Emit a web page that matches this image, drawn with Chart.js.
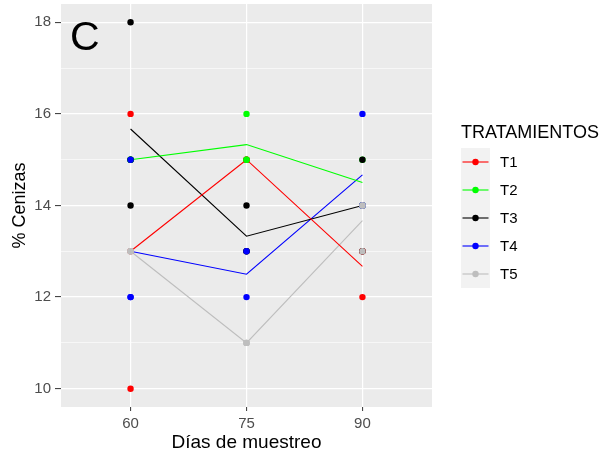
<!DOCTYPE html>
<html><head><meta charset="utf-8">
<script src="https://cdn.jsdelivr.net/npm/chart.js@4"></script>
<style>html,body{margin:0;padding:0;background:#fff}#wrap{width:606px;height:454px;position:relative}</style>
</head><body><div id="wrap"><canvas id="c" width="606" height="454"></canvas></div>
<script>
// ---- data ----
const days = [60, 75, 90];
const dayLabels = ['60', '75', '90'];
const yTicksMajor = [10, 12, 14, 16, 18];
const yTicksMinor = [11, 13, 15, 17];
const seriesNames = ['T1', 'T2', 'T3', 'T4', 'T5'];
const seriesColors = ['#FF0000', '#00FF00', '#000000', '#0000FF', '#BEBEBE'];
// individual observations per day (60, 75, 90)
const t1Obs = [[16, 13, 10], [15, 15, 15], [12, 13, 13]];
const t2Obs = [[15, 15, 15], [16, 15, 15], [15, 14]];
const t3Obs = [[18, 14, 15], [14, 13, 13], [15, 14, 13]];
const t4Obs = [[15, 12, 12], [13, 12], [16, 14, 14]];
const t5Obs = [[13, 13, 13], [11, 11, 11], [14, 14, 13]];
// mean line per day (60, 75, 90)
const t1Mean = [13, 15, 12.67];
const t2Mean = [15, 15.33, 14.5];
const t3Mean = [15.67, 13.33, 14];
const t4Mean = [13, 12.5, 14.67];
const t5Mean = [13, 11, 13.67];
const panelLabel = 'C';
const xTitle = 'Días de muestreo';
const yTitle = '% Cenizas';
const legendTitle = 'TRATAMIENTOS';

const allObs = [t1Obs, t2Obs, t3Obs, t4Obs, t5Obs];
const allMean = [t1Mean, t2Mean, t3Mean, t4Mean, t5Mean];
const FONT = "'Liberation Sans', Arial, sans-serif";

const datasets = [];
allMean.forEach((m, i) => {
  datasets.push({
    type: 'line', label: seriesNames[i] + ' media',
    data: m.map((v, j) => ({x: days[j], y: v})),
    borderColor: seriesColors[i], borderWidth: 1.1, pointRadius: 0,
    fill: false, tension: 0, order: 100 + i
  });
});
allObs.forEach((obs, i) => {
  const pts = [];
  obs.forEach((arr, j) => arr.forEach(v => pts.push({x: days[j], y: v})));
  datasets.push({
    type: 'scatter', label: seriesNames[i], data: pts,
    backgroundColor: seriesColors[i], borderColor: seriesColors[i],
    pointRadius: 3.2, pointBorderWidth: 0, showLine: false, order: 10 - i
  });
});

const panelBg = {
  id: 'panelBg',
  beforeDraw(chart) {
    const a = chart.chartArea, ctx = chart.ctx;
    ctx.save(); ctx.fillStyle = '#EBEBEB';
    ctx.fillRect(a.left, a.top, a.right - a.left, a.bottom - a.top);
    ctx.restore();
  }
};
const extras = {
  id: 'extras',
  afterDraw(chart) {
    const a = chart.chartArea, ctx = chart.ctx;
    ctx.save();
    ctx.fillStyle = '#000';
    ctx.font = '41px ' + FONT;
    ctx.textBaseline = 'alphabetic'; ctx.textAlign = 'left';
    ctx.fillText(panelLabel, a.left + 9, a.top + 46);
    // legend
    const lx = a.right + 29, ty = 133;
    ctx.font = '18px ' + FONT; ctx.textBaseline = 'middle';
    ctx.fillText(legendTitle, lx, ty);
    const boxTop = 148, step = 28, kw = 29;
    ctx.fillStyle = '#F2F2F2';
    ctx.fillRect(lx, boxTop, kw, step * seriesNames.length);
    seriesNames.forEach((n, i) => {
      const cy = boxTop + step / 2 + i * step;
      ctx.strokeStyle = seriesColors[i]; ctx.lineWidth = 1.1;
      ctx.beginPath(); ctx.moveTo(lx + 1.5, cy); ctx.lineTo(lx + kw - 1.5, cy); ctx.stroke();
      ctx.fillStyle = seriesColors[i];
      ctx.beginPath(); ctx.arc(lx + kw / 2, cy, 3.2, 0, Math.PI * 2); ctx.fill();
      ctx.fillStyle = '#000'; ctx.font = '15px ' + FONT;
      ctx.fillText(n, lx + 39, cy + 1);
    });
    ctx.restore();
  }
};

new Chart(document.getElementById('c'), {
  type: 'scatter',
  data: {datasets},
  options: {
    responsive: false, animation: false, devicePixelRatio: 1,
    layout: {padding: {left: 0, top: 4, right: 174, bottom: 0}},
    plugins: {legend: {display: false}, tooltip: {enabled: false}},
    scales: {
      x: {
        type: 'linear', min: 51, max: 99,
        afterBuildTicks: s => { s.ticks = days.map(v => ({value: v})); },
        afterFit: s => { s.height = 47; s.paddingLeft = 0; s.paddingRight = 0; },
        ticks: {
          callback: v => dayLabels[days.indexOf(v)],
          color: '#4D4D4D', font: {family: FONT, size: 15}, padding: 4, maxRotation: 0
        },
        grid: {color: '#FFFFFF', lineWidth: 1.2, tickLength: 4, tickColor: '#333333', tickWidth: 1},
        border: {display: false},
        title: {display: true, text: xTitle, color: '#000', font: {family: FONT, size: 19}, padding: 0}
      },
      y: {
        type: 'linear', min: 9.6, max: 18.4,
        afterBuildTicks: s => {
          s.ticks = yTicksMajor.concat(yTicksMinor).sort((p, q) => p - q).map(v => ({value: v}));
        },
        afterFit: s => { s.width = 61; s.paddingTop = 0; s.paddingBottom = 0; },
        ticks: {
          callback: v => yTicksMajor.includes(v) ? String(v) : '',
          color: '#4D4D4D', font: {family: FONT, size: 15}, padding: 4
        },
        grid: {
          color: '#FFFFFF',
          lineWidth: c => yTicksMajor.includes(c.tick && c.tick.value) ? 1.2 : 0.6,
          tickLength: 6,
          tickColor: c => yTicksMajor.includes(c.tick && c.tick.value) ? '#333333' : 'rgba(0,0,0,0)',
          tickWidth: 1
        },
        border: {display: false},
        title: {display: true, text: yTitle, color: '#000', font: {family: FONT, size: 18}, padding: {top: 9, bottom: 0}}
      }
    }
  },
  plugins: [panelBg, extras]
});
</script></body></html>
